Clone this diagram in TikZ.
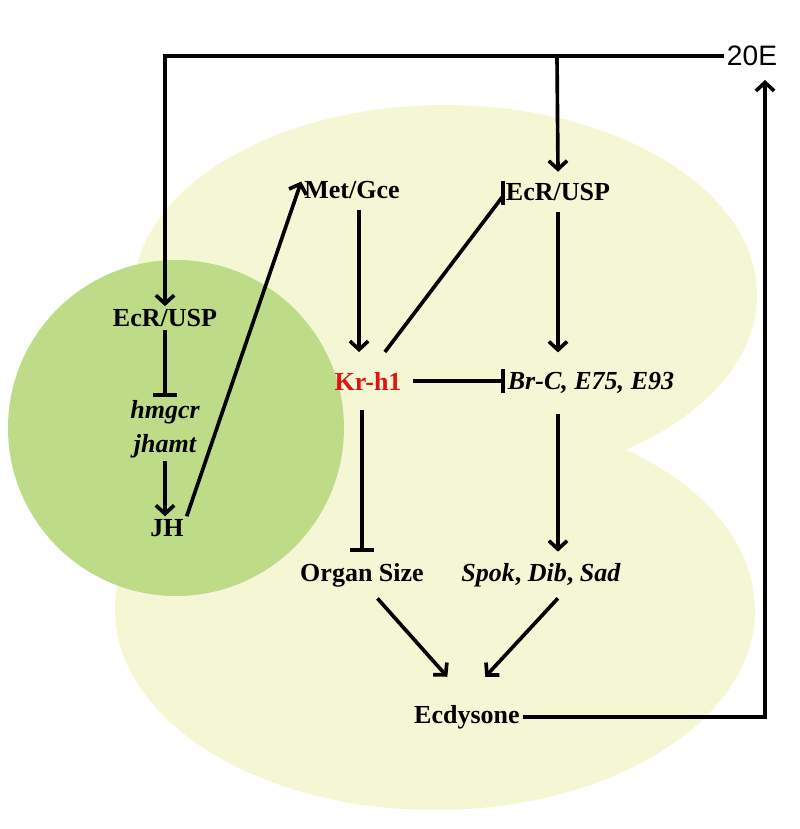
\documentclass[tikz,border=0pt]{standalone}
\usepackage{fontspec}
\setmainfont{Liberation Serif}
\newfontfamily\arialfont{Liberation Sans}
\usetikzlibrary{arrows.meta}
\definecolor{blobpale}{RGB}{245,247,212}
\definecolor{cagreen}{RGB}{190,219,135}
\definecolor{krred}{RGB}{225,20,20}
\tikzset{
  lbl/.style={font=\fontsize{18.5}{21}\selectfont\bfseries, inner sep=2pt},
  gene/.style={lbl, font=\fontsize{18.5}{21}\selectfont\bfseries\itshape},
  link/.style={line width=2.6pt},
  act/.style={link, -{Straight Barb[length=6pt,width=13pt]}},
  inh/.style={link, -{Bar[width=17pt]}},
}

\begin{document}
\begin{tikzpicture}[x=0.025cm,y=-0.025cm]
      \useasboundingbox (0,0) rectangle (800,829);
      \fill[blobpale] (445,295) ellipse [x radius=312, y radius=190];
      \fill[blobpale] (435,610) ellipse [x radius=320, y radius=200];
      \fill[cagreen] (176,428) circle [radius=168];

      \node[font=\arialfont\fontsize{20}{24}\selectfont, inner sep=2pt] (tE) at (752,56) {20E};
      \node[lbl] (ecrL) at (165,318) {EcR/USP};
      \node[gene] (hmg) at (165,412) {hmgcr};
      \node[gene] (jha) at (165,446) {jhamt};
      \node[lbl] (jh) at (167,528) {JH};
      \node[lbl, inner ysep=8pt] (met) at (352,190) {Met/Gce};
      \node[lbl, inner ysep=8pt] (ecrR) at (558,192) {EcR/USP};
      \node[lbl, text=krred, inner xsep=8pt, inner ysep=14pt] (kr) at (368,381) {Kr-h1};
      \node[gene, inner ysep=14pt] (brc) at (591,383) {Br-C, E75, E93};
      \node[lbl, inner ysep=8pt] (organ) at (362,575) {Organ Size};
      \node[lbl, inner ysep=8pt] (spok) at (541,575) {\textit{Spok}, \textit{Dib}, \textit{Sad}};
      \node[lbl, inner ysep=20pt] (ecd) at (467,717) {Ecdysone};
      \coordinate (split) at (557,56);
      \coordinate (up) at (765,80);

      \draw[act] (tE.west) -| (ecrL.north);
      \draw[act] (split) -- (ecrR.north);
      \draw[act] (ecd.east) -| (up);

      \draw[inh] (ecrL.south) -- (ecrL.south |- hmg.north);
      \draw[act] (jha.south) -- (jha.south |- jh.north);
      \draw[act] (jh.north east) -- ([yshift=6pt]met.west);

      \draw[act] ([xshift=5pt]met.south) -- ([xshift=5pt]met.south |- kr.north);
      \draw[link] ([xshift=12pt]kr.north) -- ([yshift=-3pt]ecrR.west);
      \draw[link] ([yshift=-9pt]ecrR.west) -- ([yshift=8pt]ecrR.west);
      \draw[act] (ecrR.south) -- (ecrR.south |- brc.north);
      \draw[inh] (kr.east) -- (kr.east -| brc.west);

      \draw[inh] (kr.south -| organ.north) -- (organ.north);
      \draw[act] (brc.south -| ecrR.south) -- (spok.north -| ecrR.south);
      \draw[act] ([xshift=11pt]organ.south) -- ([xshift=-14pt]ecd.north);
      \draw[act] ([xshift=12pt]spok.south) -- ([xshift=13pt]ecd.north);
\end{tikzpicture}
\end{document}
